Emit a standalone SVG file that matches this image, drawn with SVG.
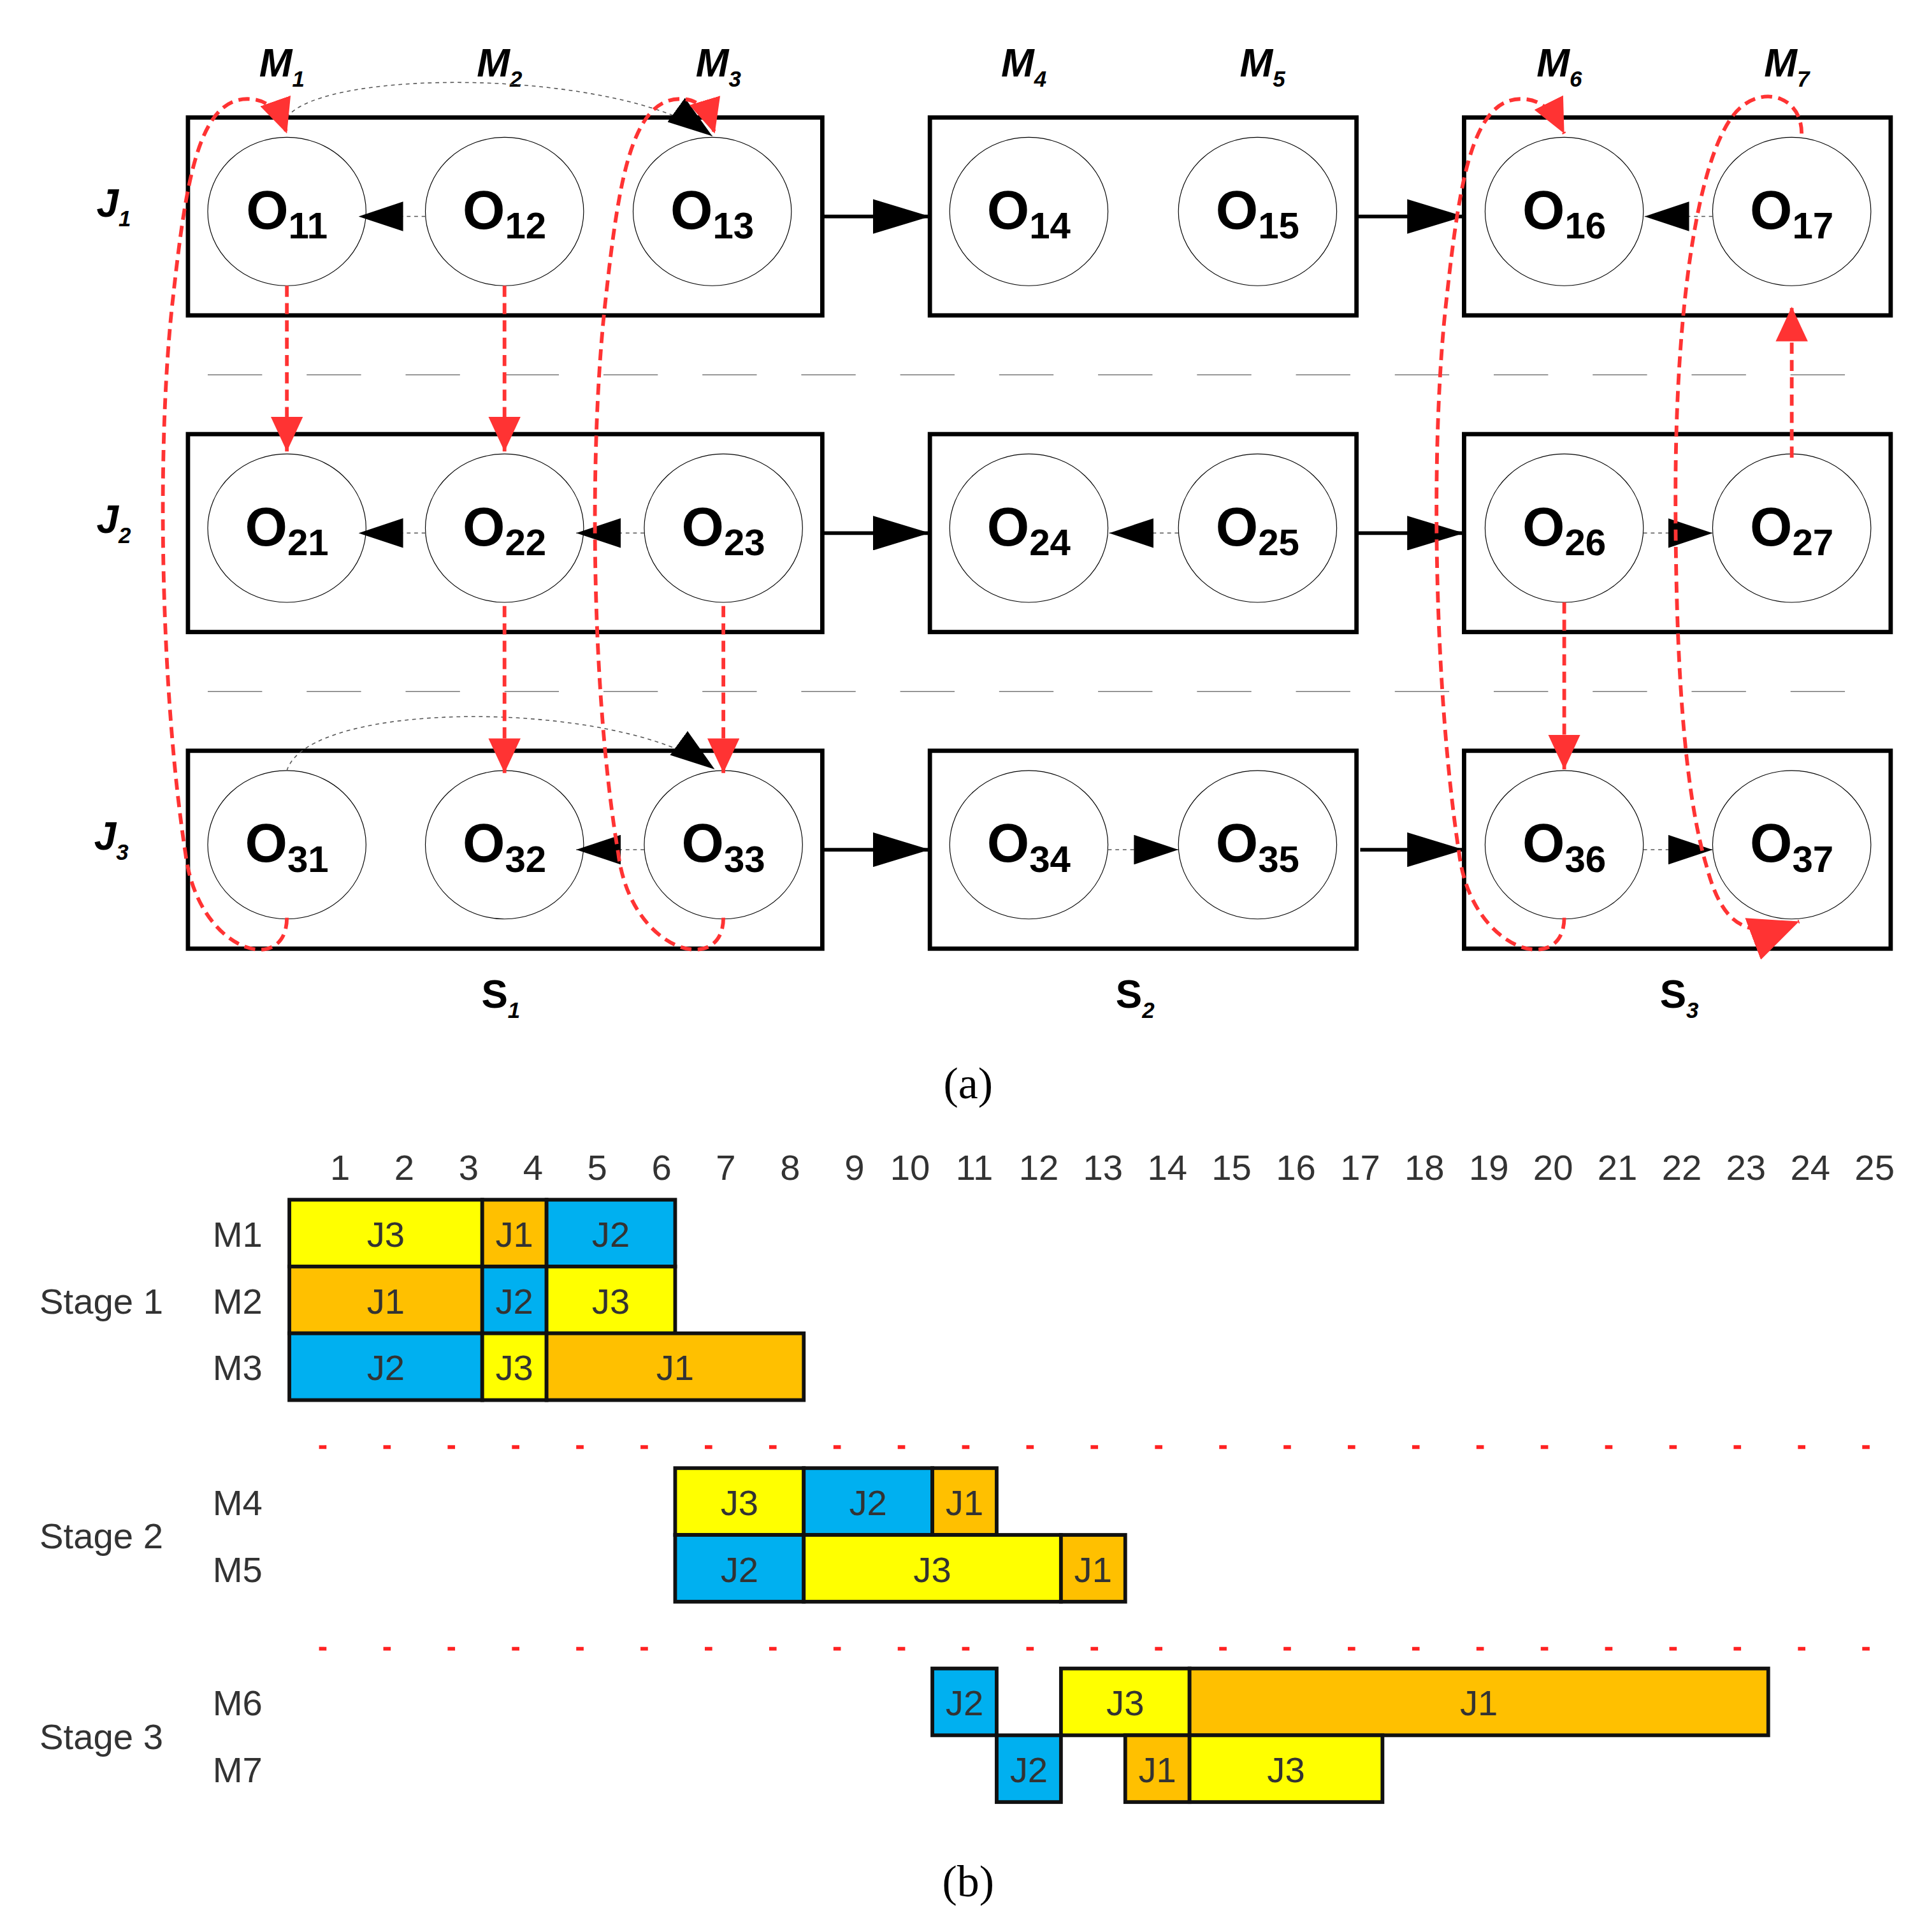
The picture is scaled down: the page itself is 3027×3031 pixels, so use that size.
<svg xmlns="http://www.w3.org/2000/svg" width="3027" height="3031" viewBox="0 0 3027 3031">
<style>
.box{fill:none;stroke:#000;stroke-width:3.5}
.op{fill:#fff;stroke:#000;stroke-width:0.6}
.ot{font-family:"Liberation Sans",Arial,sans-serif;font-weight:bold;font-size:44px;text-anchor:middle}
.sub{font-size:30px}
.ml{font-family:"Liberation Sans",Arial,sans-serif;font-weight:bold;font-style:italic;font-size:32px;text-anchor:middle}
.ms{font-size:18px}
.sep{stroke:#777;stroke-width:0.8;stroke-dasharray:44,36}
.flow{stroke:#000;stroke-width:3.5;fill:none;marker-end:url(#bigA)}
.seq{stroke:#555;stroke-width:0.8;stroke-dasharray:3,3;fill:none;marker-end:url(#bA)}
.red{stroke:#FF3333;stroke-width:3;stroke-dasharray:9,5;fill:none;marker-end:url(#rA)}
.gt{font-family:"Liberation Sans",Arial,sans-serif;font-size:29px;fill:#333}
.bar{stroke:#111;stroke-width:3}
.y{fill:#FFFF00}.o{fill:#FFC000}.b{fill:#00B0F0}
.rd{stroke:#FF2222;stroke-width:3;stroke-dasharray:6,46}
.cap{font-family:"Liberation Serif","Times New Roman",serif;font-size:36px;text-anchor:middle}
</style>
<defs>
<marker id="bigA" markerWidth="46" markerHeight="28" refX="46" refY="14" orient="auto" markerUnits="userSpaceOnUse"><path d="M0,0L46,14L0,28z"/></marker>
<marker id="bA" markerWidth="36" markerHeight="24" refX="36" refY="12" orient="auto" markerUnits="userSpaceOnUse"><path d="M0,0L36,12L0,24z"/></marker>
<marker id="rA" markerWidth="28" markerHeight="26" refX="28" refY="13" orient="auto" markerUnits="userSpaceOnUse"><path d="M0,0L28,13L0,26z" fill="#FF3333"/></marker>
<marker id="rB" markerWidth="40" markerHeight="36" refX="40" refY="18" orient="auto" markerUnits="userSpaceOnUse"><path d="M0,0L40,18L0,36z" fill="#FF3333"/></marker>
</defs>
<rect width="3027" height="3031" fill="#fff"/>
<g transform="scale(1.9404)">
<g id="separators">
<line class="sep" x1="168" y1="303" x2="1515" y2="303"/>
<line class="sep" x1="168" y1="559" x2="1515" y2="559"/>
</g>
<g id="stages">
<rect class="box" x="152" y="95" width="513" height="160"/>
<rect class="box" x="752" y="95" width="345" height="160"/>
<rect class="box" x="1184" y="95" width="345" height="160"/>
<rect class="box" x="152" y="351" width="513" height="160"/>
<rect class="box" x="752" y="351" width="345" height="160"/>
<rect class="box" x="1184" y="351" width="345" height="160"/>
<rect class="box" x="152" y="607" width="513" height="160"/>
<rect class="box" x="752" y="607" width="345" height="160"/>
<rect class="box" x="1184" y="607" width="345" height="160"/>
</g>
<g id="ops">
<g id="o11"><ellipse class="op" cx="232" cy="171" rx="64" ry="60"/><text class="ot" x="232" y="185">O<tspan class="sub" dy="8">11</tspan></text></g>
<g id="o12"><ellipse class="op" cx="408" cy="171" rx="64" ry="60"/><text class="ot" x="408" y="185">O<tspan class="sub" dy="8">12</tspan></text></g>
<g id="o13"><ellipse class="op" cx="576" cy="171" rx="64" ry="60"/><text class="ot" x="576" y="185">O<tspan class="sub" dy="8">13</tspan></text></g>
<g id="o14"><ellipse class="op" cx="832" cy="171" rx="64" ry="60"/><text class="ot" x="832" y="185">O<tspan class="sub" dy="8">14</tspan></text></g>
<g id="o15"><ellipse class="op" cx="1017" cy="171" rx="64" ry="60"/><text class="ot" x="1017" y="185">O<tspan class="sub" dy="8">15</tspan></text></g>
<g id="o16"><ellipse class="op" cx="1265" cy="171" rx="64" ry="60"/><text class="ot" x="1265" y="185">O<tspan class="sub" dy="8">16</tspan></text></g>
<g id="o17"><ellipse class="op" cx="1449" cy="171" rx="64" ry="60"/><text class="ot" x="1449" y="185">O<tspan class="sub" dy="8">17</tspan></text></g>
<g id="o21"><ellipse class="op" cx="232" cy="427" rx="64" ry="60"/><text class="ot" x="232" y="441">O<tspan class="sub" dy="8">21</tspan></text></g>
<g id="o22"><ellipse class="op" cx="408" cy="427" rx="64" ry="60"/><text class="ot" x="408" y="441">O<tspan class="sub" dy="8">22</tspan></text></g>
<g id="o23"><ellipse class="op" cx="585" cy="427" rx="64" ry="60"/><text class="ot" x="585" y="441">O<tspan class="sub" dy="8">23</tspan></text></g>
<g id="o24"><ellipse class="op" cx="832" cy="427" rx="64" ry="60"/><text class="ot" x="832" y="441">O<tspan class="sub" dy="8">24</tspan></text></g>
<g id="o25"><ellipse class="op" cx="1017" cy="427" rx="64" ry="60"/><text class="ot" x="1017" y="441">O<tspan class="sub" dy="8">25</tspan></text></g>
<g id="o26"><ellipse class="op" cx="1265" cy="427" rx="64" ry="60"/><text class="ot" x="1265" y="441">O<tspan class="sub" dy="8">26</tspan></text></g>
<g id="o27"><ellipse class="op" cx="1449" cy="427" rx="64" ry="60"/><text class="ot" x="1449" y="441">O<tspan class="sub" dy="8">27</tspan></text></g>
<g id="o31"><ellipse class="op" cx="232" cy="683" rx="64" ry="60"/><text class="ot" x="232" y="697">O<tspan class="sub" dy="8">31</tspan></text></g>
<g id="o32"><ellipse class="op" cx="408" cy="683" rx="64" ry="60"/><text class="ot" x="408" y="697">O<tspan class="sub" dy="8">32</tspan></text></g>
<g id="o33"><ellipse class="op" cx="585" cy="683" rx="64" ry="60"/><text class="ot" x="585" y="697">O<tspan class="sub" dy="8">33</tspan></text></g>
<g id="o34"><ellipse class="op" cx="832" cy="683" rx="64" ry="60"/><text class="ot" x="832" y="697">O<tspan class="sub" dy="8">34</tspan></text></g>
<g id="o35"><ellipse class="op" cx="1017" cy="683" rx="64" ry="60"/><text class="ot" x="1017" y="697">O<tspan class="sub" dy="8">35</tspan></text></g>
<g id="o36"><ellipse class="op" cx="1265" cy="683" rx="64" ry="60"/><text class="ot" x="1265" y="697">O<tspan class="sub" dy="8">36</tspan></text></g>
<g id="o37"><ellipse class="op" cx="1449" cy="683" rx="64" ry="60"/><text class="ot" x="1449" y="697">O<tspan class="sub" dy="8">37</tspan></text></g>
</g>
<g id="labels">
<text class="ml" x="228" y="62">M<tspan class="ms" dy="8">1</tspan></text>
<text class="ml" x="404" y="62">M<tspan class="ms" dy="8">2</tspan></text>
<text class="ml" x="581" y="62">M<tspan class="ms" dy="8">3</tspan></text>
<text class="ml" x="828" y="62">M<tspan class="ms" dy="8">4</tspan></text>
<text class="ml" x="1021" y="62">M<tspan class="ms" dy="8">5</tspan></text>
<text class="ml" x="1261" y="62">M<tspan class="ms" dy="8">6</tspan></text>
<text class="ml" x="1445" y="62">M<tspan class="ms" dy="8">7</tspan></text>
<text class="ml" x="92" y="175">J<tspan class="ms" dy="8">1</tspan></text>
<text class="ml" x="92" y="431">J<tspan class="ms" dy="8">2</tspan></text>
<text class="ml" x="90" y="687">J<tspan class="ms" dy="8">3</tspan></text>
<text class="ml" x="405" y="815" style="font-style:normal">S<tspan class="ms" dy="8" style="font-style:italic">1</tspan></text>
<text class="ml" x="918" y="815" style="font-style:normal">S<tspan class="ms" dy="8" style="font-style:italic">2</tspan></text>
<text class="ml" x="1358" y="815" style="font-style:normal">S<tspan class="ms" dy="8" style="font-style:italic">3</tspan></text>
<text class="cap" x="783" y="888">(a)</text>
<text class="cap" x="783" y="1533">(b)</text>
</g>
<g id="connectors">
<line class="flow" x1="665" y1="175" x2="752" y2="175" style="stroke-width:3"/>
<line class="flow" x1="1097" y1="175" x2="1184" y2="175" style="stroke-width:3"/>
<line class="flow" x1="665" y1="431" x2="752" y2="431" style="stroke-width:3"/>
<line class="flow" x1="1097" y1="431" x2="1184" y2="431" style="stroke-width:3"/>
<line class="flow" x1="665" y1="687" x2="752" y2="687" style="stroke-width:3"/>
<line class="flow" x1="1100" y1="687" x2="1184" y2="687" style="stroke-width:3"/>
<line class="seq" x1="344" y1="175" x2="290" y2="175"/>
<line class="seq" x1="1385" y1="175" x2="1330" y2="175"/>
<line class="seq" x1="344" y1="431" x2="290" y2="431"/>
<line class="seq" x1="521" y1="431" x2="466" y2="431"/>
<line class="seq" x1="953" y1="431" x2="897" y2="431"/>
<line class="seq" x1="1329" y1="431" x2="1385" y2="431"/>
<line class="seq" x1="896" y1="687" x2="953" y2="687"/>
<line class="seq" x1="521" y1="687" x2="466" y2="687"/>
<line class="seq" x1="1329" y1="687" x2="1385" y2="687"/>
<path class="seq" d="M232,95 C260,55 500,55 576,110"/>
<path class="seq" d="M232,623 C250,565 500,565 578,622"/>
<line class="red" x1="232" y1="231" x2="232" y2="365"/>
<line class="red" x1="408" y1="231" x2="408" y2="365"/>
<line class="red" x1="408" y1="490" x2="408" y2="625"/>
<line class="red" x1="585" y1="490" x2="585" y2="625"/>
<line class="red" x1="1265" y1="487" x2="1265" y2="622"/>
<line class="red" x1="1449" y1="370" x2="1449" y2="248"/>
<path class="red" d="M232,742 C232,790 160,770 150,690 C130,560 126,360 140,240 C150,150 160,80 200,80 C215,80 225,88 232,108"/>
<path class="red" d="M585,742 C585,790 510,770 500,690 C478,560 476,360 490,240 C500,150 510,80 550,80 C565,80 572,88 578,108"/>
<path class="red" d="M1265,742 C1265,790 1190,770 1180,690 C1160,560 1156,360 1170,240 C1180,150 1190,80 1230,80 C1245,80 1255,88 1265,108"/>
<path class="red" style="marker-end:url(#rB)" d="M1457,108 C1457,80 1430,70 1410,85 C1375,110 1355,240 1355,400 C1355,560 1365,650 1380,700 C1392,745 1410,762 1455,745"/>
</g>
<g id="gantt">
<g class="gt" text-anchor="middle">
<text x="275" y="954">1</text><text x="327" y="954">2</text><text x="379" y="954">3</text><text x="431" y="954">4</text><text x="483" y="954">5</text><text x="535" y="954">6</text><text x="587" y="954">7</text><text x="639" y="954">8</text><text x="691" y="954">9</text><text x="736" y="954">10</text><text x="788" y="954">11</text><text x="840" y="954">12</text><text x="892" y="954">13</text><text x="944" y="954">14</text><text x="996" y="954">15</text><text x="1048" y="954">16</text><text x="1100" y="954">17</text><text x="1152" y="954">18</text><text x="1204" y="954">19</text><text x="1256" y="954">20</text><text x="1308" y="954">21</text><text x="1360" y="954">22</text><text x="1412" y="954">23</text><text x="1464" y="954">24</text><text x="1516" y="954">25</text>
</g>
<g class="gt">
<text x="172" y="1008">M1</text><text x="172" y="1062">M2</text><text x="172" y="1116">M3</text>
<text x="172" y="1225">M4</text><text x="172" y="1279">M5</text>
<text x="172" y="1387">M6</text><text x="172" y="1441">M7</text>
<text x="32" y="1062">Stage 1</text><text x="32" y="1252">Stage 2</text><text x="32" y="1414">Stage 3</text>
</g>
<line class="rd" x1="258" y1="1170" x2="1520" y2="1170"/>
<line class="rd" x1="258" y1="1333" x2="1520" y2="1333"/>
<g id="bars">
<rect class="bar y" x="234" y="970" width="156" height="54"/><rect class="bar o" x="390" y="970" width="52" height="54"/><rect class="bar b" x="442" y="970" width="104" height="54"/>
<rect class="bar o" x="234" y="1024" width="156" height="54"/><rect class="bar b" x="390" y="1024" width="52" height="54"/><rect class="bar y" x="442" y="1024" width="104" height="54"/>
<rect class="bar b" x="234" y="1078" width="156" height="54"/><rect class="bar y" x="390" y="1078" width="52" height="54"/><rect class="bar o" x="442" y="1078" width="208" height="54"/>
<rect class="bar y" x="546" y="1187" width="104" height="54"/><rect class="bar b" x="650" y="1187" width="104" height="54"/><rect class="bar o" x="754" y="1187" width="52" height="54"/>
<rect class="bar b" x="546" y="1241" width="104" height="54"/><rect class="bar y" x="650" y="1241" width="208" height="54"/><rect class="bar o" x="858" y="1241" width="52" height="54"/>
<rect class="bar b" x="754" y="1349" width="52" height="54"/><rect class="bar y" x="858" y="1349" width="104" height="54"/><rect class="bar o" x="962" y="1349" width="468" height="54"/>
<rect class="bar b" x="806" y="1403" width="52" height="54"/><rect class="bar o" x="910" y="1403" width="52" height="54"/><rect class="bar y" x="962" y="1403" width="156" height="54"/>
</g>
<g class="gt" text-anchor="middle">
<text x="312" y="1008">J3</text><text x="416" y="1008">J1</text><text x="494" y="1008">J2</text>
<text x="312" y="1062">J1</text><text x="416" y="1062">J2</text><text x="494" y="1062">J3</text>
<text x="312" y="1116">J2</text><text x="416" y="1116">J3</text><text x="546" y="1116">J1</text>
<text x="598" y="1225">J3</text><text x="702" y="1225">J2</text><text x="780" y="1225">J1</text>
<text x="598" y="1279">J2</text><text x="754" y="1279">J3</text><text x="884" y="1279">J1</text>
<text x="780" y="1387">J2</text><text x="910" y="1387">J3</text><text x="1196" y="1387">J1</text>
<text x="832" y="1441">J2</text><text x="936" y="1441">J1</text><text x="1040" y="1441">J3</text>
</g>
</g>
</g>
</svg>
